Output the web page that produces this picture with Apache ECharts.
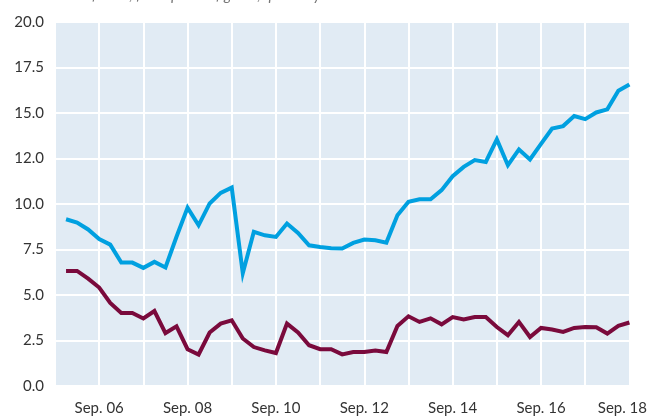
<!DOCTYPE html>
<html>
<head>
<meta charset="utf-8">
<script src="https://cdn.jsdelivr.net/npm/echarts@6/dist/echarts.min.js"></script>
<style>
  html, body { margin: 0; padding: 0; background: #fff; }
  #chart { width: 650px; height: 417px; }
</style>
</head>
<body>
<div id="chart"></div>
<script>
// quarterly categories, Sep. 05 sits on the left edge of the plot
var quarters = [
  'Sep. 05', 'Dec. 05', 'Mar. 06', 'Jun. 06', 'Sep. 06', 'Dec. 06', 'Mar. 07', 'Jun. 07',
  'Sep. 07', 'Dec. 07', 'Mar. 08', 'Jun. 08', 'Sep. 08', 'Dec. 08', 'Mar. 09', 'Jun. 09',
  'Sep. 09', 'Dec. 09', 'Mar. 10', 'Jun. 10', 'Sep. 10', 'Dec. 10', 'Mar. 11', 'Jun. 11',
  'Sep. 11', 'Dec. 11', 'Mar. 12', 'Jun. 12', 'Sep. 12', 'Dec. 12', 'Mar. 13', 'Jun. 13',
  'Sep. 13', 'Dec. 13', 'Mar. 14', 'Jun. 14', 'Sep. 14', 'Dec. 14', 'Mar. 15', 'Jun. 15',
  'Sep. 15', 'Dec. 15', 'Mar. 16', 'Jun. 16', 'Sep. 16', 'Dec. 16', 'Mar. 17', 'Jun. 17',
  'Sep. 17', 'Dec. 17', 'Mar. 18', 'Jun. 18', 'Sep. 18'
]

// values from Dec. 05 to Sep. 18
var blueLine = [
  9.16, 8.98, 8.6, 8.07, 7.77, 6.78, 6.78, 6.49, 6.82, 6.51,
  8.2, 9.8, 8.83, 10.03, 10.61, 10.9, 6.2, 8.47, 8.28, 8.19,
  8.93, 8.41, 7.73, 7.64, 7.57, 7.55, 7.86, 8.05, 8.01, 7.88,
  9.38, 10.12, 10.26, 10.26, 10.76, 11.53, 12.04, 12.41, 12.31, 13.55,
  12.13, 13.0, 12.45, 13.3, 14.15, 14.28, 14.83, 14.66, 15.03, 15.2,
  16.22, 16.57
]
var maroonLine = [
  6.32, 6.32, 5.9, 5.41, 4.56, 4.01, 4.01, 3.71, 4.12, 2.91,
  3.28, 2.02, 1.73, 2.94, 3.43, 3.61, 2.61, 2.14, 1.96, 1.81,
  3.43, 2.94, 2.24, 2.02, 2.02, 1.74, 1.87, 1.87, 1.95, 1.87,
  3.3, 3.83, 3.52, 3.72, 3.39, 3.79, 3.65, 3.79, 3.79, 3.24,
  2.79, 3.52, 2.69, 3.19, 3.1, 2.97, 3.19, 3.24, 3.23, 2.88,
  3.3, 3.49
]

// y tick labels as printed in the original (note 12.0)
var yLabels = ['0.0', '2.5', '5.0', '7.5', '10.0', '12.0', '15.0', '17.5', '20.0']

var subtitle = 'Per cent of total, four-quarter figures, quarterly'

var chart = echarts.init(document.getElementById('chart'))
chart.setOption({
  animation: false,
  backgroundColor: '#fff',
  textStyle: { fontFamily: 'Lato' },
  graphic: [{
    type: 'text',
    left: 30,
    top: -12,
    style: {
      text: subtitle,
      font: 'italic 15px Lato',
      fill: '#777'
    }
  }],
  grid: {
    left: 55,
    right: 19,
    top: 22,
    bottom: 31,
    show: true,
    backgroundColor: '#e1ebf4',
    borderWidth: 0
  },
  xAxis: {
    type: 'category',
    data: quarters,
    boundaryGap: false,
    axisLine: { show: false },
    axisTick: { show: false },
    splitLine: {
      show: true,
      interval: function(i) { return i % 4 === 0 },
      lineStyle: { color: '#fff', width: 2 }
    },
    axisLabel: {
      interval: function(i) { return i % 8 === 4 },
      margin: 15,
      color: '#333',
      fontSize: 15,
      formatter: function(v, i) {
        // last label pulled a little inside the page
        return i === quarters.length - 1 ? '{last|' + v + '}' : v
      },
      rich: {
        last: { fontSize: 15, color: '#333', padding: [0, 14, 0, 0] }
      }
    }
  },
  yAxis: {
    type: 'value',
    min: 0,
    max: 20,
    interval: 2.5,
    axisLine: { show: false },
    axisTick: { show: false },
    splitLine: { lineStyle: { color: '#fff', width: 2 } },
    axisLabel: {
      margin: 11,
      color: '#333',
      fontSize: 15,
      formatter: function(v) { return yLabels[Math.round(v / 2.5)] }
    }
  },
  series: [{
    name: 'Upper',
    type: 'line',
    data: [null].concat(blueLine),
    symbol: 'none',
    lineStyle: { color: '#00a0e0', width: 4, join: 'miter' }
  }, {
    name: 'Lower',
    type: 'line',
    data: [null].concat(maroonLine),
    symbol: 'none',
    lineStyle: { color: '#7a0a3c', width: 4, join: 'miter' }
  }]
})
</script>
</body>
</html>
